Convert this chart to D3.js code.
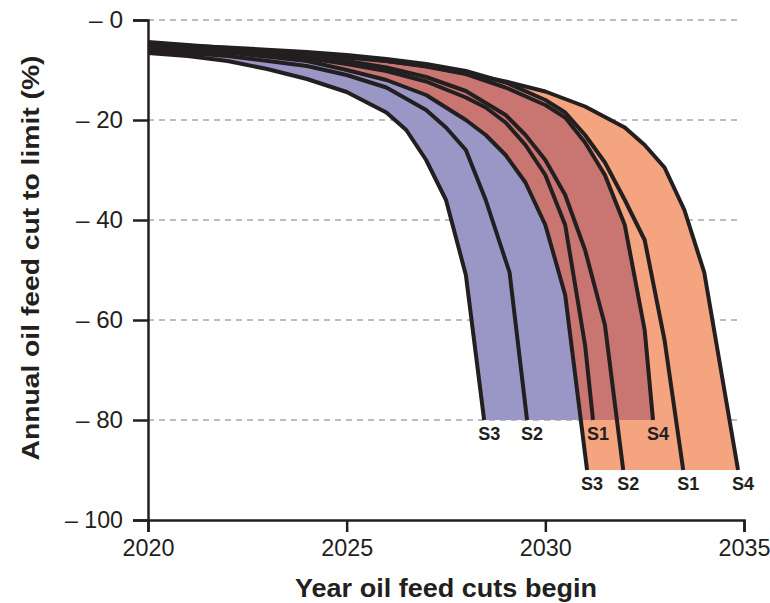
<!DOCTYPE html>
<html>
<head>
<meta charset="utf-8">
<script src="https://cdn.jsdelivr.net/npm/d3@7"></script>
<style>
  html, body { margin: 0; padding: 0; background: #fff; }
  svg { display: block; }
  .tick text { font-family: "Liberation Sans", Arial, sans-serif; font-size: 23px; fill: #231f20; }
  .title { font-family: "Liberation Sans", Arial, sans-serif; font-weight: bold; fill: #231f20; }
  .slabel { font-family: "Liberation Sans", Arial, sans-serif; font-weight: bold; font-size: 18px; fill: #231f20; }
</style>
</head>
<body>
<svg id="chart" width="770" height="603"></svg>
<script>
// Start year of oil feed cuts vs. required annual cut (%), two budget limits.
// Group A reaches its limit at -80 %, group B at -90 %.
const xTicks = [2020, 2025, 2030, 2035];
const yTicks = [0, -20, -40, -60, -80, -100];
const limitA = -80;
const limitB = -90;

const a_S1 = [[2020,-5.4],[2022,-6.2],[2024,-7.6],[2025,-8.8],[2026,-10.2],[2027,-12.3],[2028,-15.5],[2028.5,-17.5],[2029,-20.5],[2029.5,-25],[2030,-31],[2030.5,-41],[2031,-65],[2031.2,limitA]];
const a_S2 = [[2020,-6.0],[2022,-7.2],[2024,-9.2],[2025,-11],[2026,-13.5],[2027,-18],[2027.5,-21.5],[2028,-26],[2028.5,-36],[2029.1,-50.5],[2029.54,limitA]];
const a_S3 = [[2020,-6.6],[2021,-7.2],[2022,-8.2],[2023,-9.8],[2024,-11.8],[2025,-14.4],[2026,-18.5],[2026.5,-22],[2027,-28],[2027.5,-36],[2028,-51],[2028.46,limitA]];
const a_S4 = [[2020,-5.0],[2022,-5.8],[2024,-6.7],[2025,-7.3],[2026,-8.2],[2027,-9.3],[2028,-10.8],[2029,-13.5],[2030,-17],[2030.5,-19.5],[2031,-24.5],[2031.5,-31],[2032,-41],[2032.5,-62],[2032.71,limitA]];

const b_S1 = [[2020,-4.8],[2022,-5.5],[2024,-6.4],[2025,-7],[2026,-7.8],[2027,-8.8],[2028,-10.2],[2029,-12.5],[2030,-16],[2030.5,-18.5],[2031,-23],[2031.5,-28.5],[2032,-36],[2032.5,-44],[2033,-64],[2033.47,limitB]];
const b_S2 = [[2020,-5.2],[2022,-6],[2024,-7.2],[2025,-8.2],[2026,-9.5],[2027,-11.4],[2028,-14.2],[2029,-19],[2029.5,-23],[2030,-28],[2030.5,-35],[2031,-46],[2031.5,-61],[2031.96,limitB]];
const b_S3 = [[2020,-5.6],[2022,-6.5],[2024,-8.2],[2025,-10],[2026,-12],[2027,-15],[2028,-20],[2028.5,-23],[2029,-27],[2029.5,-32.5],[2030,-41],[2030.5,-55],[2031.05,limitB]];
const b_S4 = [[2020,-4.4],[2021,-5],[2022,-5.6],[2023,-6.3],[2024,-7],[2025,-7.5],[2026,-8.2],[2027,-9.2],[2028,-10.7],[2029,-12.3],[2030,-14.3],[2031,-17.3],[2032,-21.5],[2032.5,-25],[2033,-29.5],[2033.5,-38],[2034,-50.5],[2034.85,limitB]];

const linesA = [["S3", a_S3], ["S2", a_S2], ["S1", a_S1], ["S4", a_S4]];
const linesB = [["S3", b_S3], ["S2", b_S2], ["S1", b_S1], ["S4", b_S4]];

const colBlue = "#9a97c7";
const colRed = "#c97672";
const colOrange = "#f5a480";
const ink = "#231f20";

const svg = d3.select("#chart");
const margin = { left: 148, top: 20, right: 26, bottom: 83 };
const W = 770, H = 603;

const x = d3.scaleLinear().domain([2020, 2035]).range([margin.left, W - margin.right]);
const y = d3.scaleLinear().domain([-100, 0]).range([H - margin.bottom, margin.top]);

// dashed gridlines
svg.append("g").selectAll("line").data(yTicks.filter(d => d > -100)).join("line")
  .attr("x1", x(2020)).attr("x2", x(2034.95))
  .attr("y1", d => y(d)).attr("y2", d => y(d))
  .attr("stroke", "#a8a8a8").attr("stroke-width", 1.3).attr("stroke-dasharray", "6,5");

const line = d3.line().x(d => x(d[0])).y(d => y(d[1]));

// band polygon: lower curve forward, upper curve backward
function band(lower, upper) {
  return line(lower.concat(upper.slice().reverse())) + "Z";
}

const bandA = band(a_S3, a_S4);
const bandB = band(b_S3, b_S4);

svg.append("defs").append("clipPath").attr("id", "clipB")
  .append("path").attr("d", bandB);

svg.append("path").attr("d", bandB).attr("fill", colOrange);
svg.append("path").attr("d", bandA).attr("fill", colBlue);
svg.append("path").attr("d", bandA).attr("fill", colRed).attr("clip-path", "url(#clipB)");

// scenario curves
const curves = svg.append("g");
linesA.concat(linesB).forEach(([name, pts]) => {
  curves.append("path").attr("d", line(pts))
    .attr("fill", "none").attr("stroke", ink).attr("stroke-width", 4)
    .attr("stroke-linejoin", "round");
});

// end labels
function labels(set, dy) {
  svg.append("g").selectAll("text").data(set).join("text")
    .attr("class", "slabel")
    .attr("x", d => x(d[1][d[1].length - 1][0]) + 5)
    .attr("y", d => y(d[1][d[1].length - 1][1]) + dy)
    .attr("text-anchor", "middle")
    .text(d => d[0]);
}
labels(linesA, 20);
labels(linesB, 20);

// axes
const yAxis = d3.axisLeft(y).tickValues(yTicks).tickSize(15).tickPadding(10)
  .tickFormat(d => "\u2013 " + Math.abs(d));
const gy = svg.append("g").attr("transform", `translate(${margin.left},0)`).call(yAxis);
gy.select(".domain").attr("stroke", ink).attr("stroke-width", 2.5);
gy.selectAll(".tick line").attr("stroke", ink).attr("stroke-width", 2.5);
gy.selectAll(".tick text").attr("lengthAdjust", "spacingAndGlyphs")
  .attr("textLength", d => d === 0 ? 34 : d === -100 ? 58 : 47);

const xAxis = d3.axisBottom(x).tickValues(xTicks).tickSize(12).tickPadding(8).tickFormat(d3.format("d"));
const gx = svg.append("g").attr("transform", `translate(0,${y(-100)})`).call(xAxis);
gx.select(".domain").attr("stroke", ink).attr("stroke-width", 2.5);
gx.selectAll(".tick line").attr("stroke", ink).attr("stroke-width", 2.5);
gx.selectAll(".tick text").attr("lengthAdjust", "spacingAndGlyphs").attr("textLength", 52);

svg.append("text").attr("class", "title")
  .attr("x", (x(2020) + x(2035)) / 2).attr("y", 597)
  .attr("text-anchor", "middle").attr("font-size", 25)
  .attr("lengthAdjust", "spacingAndGlyphs").attr("textLength", 302)
  .text("Year oil feed cuts begin");

svg.append("text").attr("class", "title")
  .attr("transform", `translate(39,${y(-50) - 12}) rotate(-90)`)
  .attr("text-anchor", "middle").attr("font-size", 23)
  .attr("lengthAdjust", "spacingAndGlyphs").attr("textLength", 405)
  .text("Annual oil feed cut to limit (%)");
</script>
</body>
</html>
